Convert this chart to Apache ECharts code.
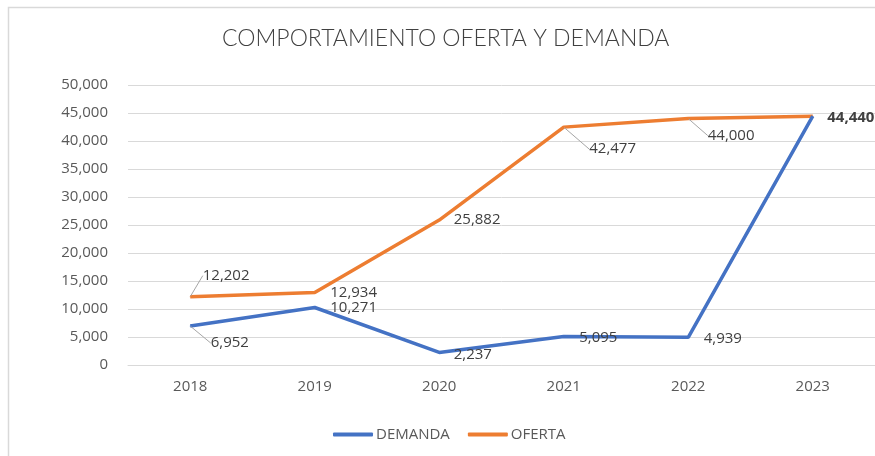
<!DOCTYPE html>
<html>
<head>
    <meta charset="UTF-8">
    <title>Comportamiento oferta y demanda</title>
    <script src="https://cdn.jsdelivr.net/npm/echarts@6/dist/echarts.min.js"></script>
    <style>
        html, body { margin: 0; padding: 0; background: #fff; }
    </style>
</head>
<body>
    <div id="main" style="width:875px; height:456px;"></div>
    <script>
        var years = ['2018', '2019', '2020', '2021', '2022', '2023'];
        var demanda = [6952, 10271, 2237, 5095, 4939, 44440];
        var oferta = [12202, 12934, 25882, 42477, 44000, 44440];

        // label offsets (dx, dy) from each point, and which ones get a leader line
        var demandaOffsets = [[20, 17], [15, 0], [14, 2], [15, 1], [15, 1], [14, 2]];
        var demandaLeader = [true, false, false, false, false, false];
        var ofertaOffsets = [[12, -21], [15, 0], [14, 0], [25, 22], [19, 17], [0, 0]];
        var ofertaLeader = [true, false, false, true, true, false];

        var chart = echarts.init(document.getElementById('main'), null, {renderer: 'canvas'});

        var fmt = function (v) {
            return v.toString().replace(/\B(?=(\d{3})+(?!\d))/g, ',');
        };

        function buildData(values, leaders, boldLast, hideLast) {
            return values.map(function (v, i) {
                var item = {value: v, labelLine: {show: leaders[i]}};
                if (i === values.length - 1) {
                    if (hideLast) item.label = {show: false};
                    if (boldLast) item.label = {fontWeight: 'bold'};
                }
                return item;
            });
        }

        function makeSeries(name, color, values, offsets, leaders, boldLast, hideLast) {
            return {
                name: name,
                type: 'line',
                data: buildData(values, leaders, boldLast, hideLast),
                symbol: 'circle',
                symbolSize: 1,
                showSymbol: true,
                lineStyle: {color: color, width: 3.5},
                itemStyle: {color: color},
                label: {
                    show: true,
                    position: 'right',
                    distance: 0,
                    align: 'left',
                    verticalAlign: 'middle',
                    color: '#404040',
                    fontFamily: 'Open Sans',
                    fontSize: 15,
                    formatter: function (p) { return fmt(p.value); }
                },
                labelLine: {
                    show: false,
                    lineStyle: {color: '#A6A6A6', width: 1}
                },
                labelLayout: function (p) {
                    var o = offsets[p.dataIndex];
                    return {dx: o[0], dy: o[1]};
                },
                emphasis: {disabled: true},
                z: name === 'DEMANDA' ? 3 : 2
            };
        }

        var option = {
            animation: false,
            backgroundColor: '#fff',
            title: {
                text: 'COMPORTAMIENTO OFERTA Y DEMANDA',
                left: 217,
                top: 22,
                textStyle: {
                    color: '#404040',
                    fontFamily: 'Lato',
                    fontWeight: 300,
                    fontSize: 23
                }
            },
            legend: {
                bottom: 9,
                left: 328,
                itemWidth: 40,
                itemHeight: 4,
                itemGap: 18,
                icon: 'roundRect',
                textStyle: {color: '#595959', fontFamily: 'Open Sans', fontSize: 15, padding: [0, 0, 0, -2]},
                data: ['DEMANDA', 'OFERTA']
            },
            graphic: [{
                type: 'rect',
                shape: {x: 8.5, y: 7.5, width: 1000, height: 1000},
                style: {fill: null, stroke: '#D9D9D9', lineWidth: 1.5},
                silent: true
            }],
            grid: {left: 128, top: 85, width: 748, height: 280},
            xAxis: {
                type: 'category',
                data: years,
                boundaryGap: true,
                axisLine: {show: true, lineStyle: {color: '#D9D9D9', width: 1}},
                axisTick: {show: false},
                axisLabel: {color: '#595959', fontFamily: 'Open Sans', fontSize: 15, margin: 14}
            },
            yAxis: {
                type: 'value',
                min: 0,
                max: 50000,
                interval: 5000,
                axisLine: {show: false},
                axisTick: {show: false},
                splitLine: {lineStyle: {color: '#D9D9D9', width: 1}},
                axisLabel: {
                    color: '#595959',
                    fontFamily: 'Open Sans',
                    fontSize: 15,
                    margin: 20,
                    formatter: function (v) { return fmt(v); }
                }
            },
            series: [
                makeSeries('DEMANDA', '#4472C4', demanda, demandaOffsets, demandaLeader, true, false),
                makeSeries('OFERTA', '#ED7D31', oferta, ofertaOffsets, ofertaLeader, false, true)
            ]
        };

        chart.setOption(option);
    </script>
</body>
</html>
